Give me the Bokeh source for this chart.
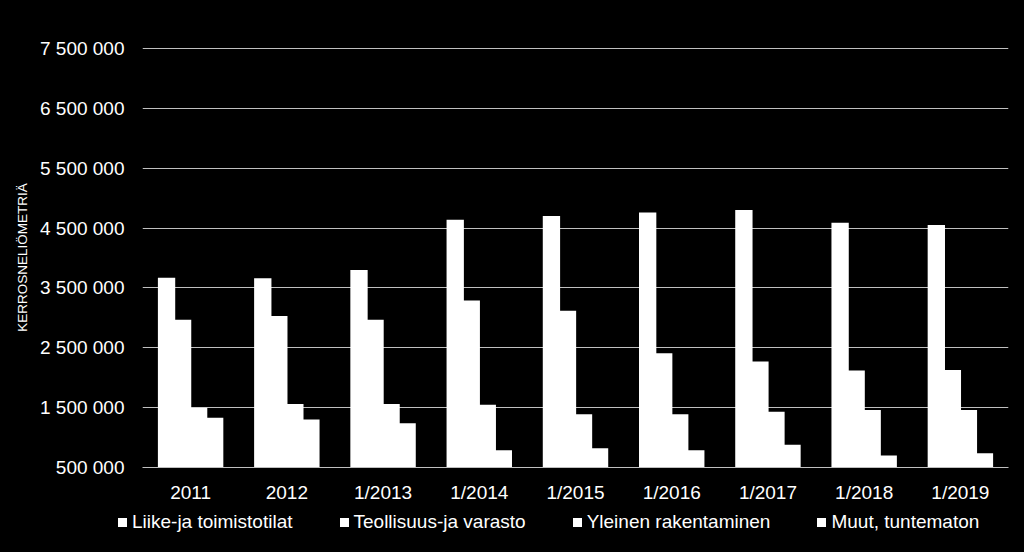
from bokeh.plotting import figure
from bokeh.models import FactorRange, Range1d, FixedTicker, ColumnDataSource, Div
from bokeh.layouts import column
from bokeh.transform import dodge
from bokeh.embed import file_html
from bokeh.resources import INLINE

categories = ["2011", "2012", "1/2013", "1/2014", "1/2015", "1/2016", "1/2017", "1/2018", "1/2019"]
series_names = ["Liike-ja toimistotilat", "Teollisuus-ja varasto", "Yleinen rakentaminen", "Muut, tuntematon"]
liike = [3670000, 3660000, 3800000, 4640000, 4700000, 4760000, 4800000, 4590000, 4550000]
teollisuus = [2970000, 3030000, 2970000, 3290000, 3120000, 2410000, 2270000, 2120000, 2130000]
yleinen = [1500000, 1560000, 1560000, 1550000, 1390000, 1390000, 1430000, 1460000, 1460000]
muut = [1330000, 1300000, 1240000, 790000, 820000, 790000, 880000, 700000, 740000]
y_ticks = [500000, 1500000, 2500000, 3500000, 4500000, 5500000, 6500000, 7500000]
y_tick_labels = ["500 000", "1 500 000", "2 500 000", "3 500 000", "4 500 000", "5 500 000", "6 500 000", "7 500 000"]
y_title = "KERROSNELIÖMETRIÄ"
baseline = 500000

FONT = "Liberation Sans"
GRID = "#bfbfbf"
BAR = "#ffffff"

src = ColumnDataSource(dict(cat=categories, s0=liike, s1=teollisuus, s2=yleinen, s3=muut,
                            base=[baseline] * len(categories)))

# one pixel of headroom so the top gridline is not clipped
y_end = y_ticks[-1] + (y_ticks[1] - y_ticks[0]) / 60.0
p = figure(x_range=FactorRange(*categories), y_range=Range1d(y_ticks[0], y_end),
           width=1024, height=505, output_backend="svg", toolbar_location=None,
           min_border_left=142, min_border_right=16, min_border_top=47, min_border_bottom=36)
p.background_fill_color = "black"
p.border_fill_color = "black"
p.outline_line_color = None

offsets = [-0.25, -0.0833, 0.0833, 0.25]
for i, off in enumerate(offsets):
    p.vbar(x=dodge("cat", off, range=p.x_range), top="s%d" % i, bottom="base", width=0.18,
           source=src, fill_color=BAR, line_color=None, legend_label=series_names[i])
p.legend.visible = False

p.xgrid.grid_line_color = None
p.ygrid.grid_line_color = GRID
p.ygrid.grid_line_width = 1
p.yaxis.ticker = FixedTicker(ticks=y_ticks)
p.yaxis.major_label_overrides = {t: l for t, l in zip(y_ticks, y_tick_labels)}
p.yaxis.axis_line_color = None
p.yaxis.major_tick_line_color = None
p.yaxis.minor_tick_line_color = None
p.yaxis.major_tick_in = 0
p.yaxis.major_tick_out = 0
p.yaxis.major_label_standoff = 18
p.yaxis.major_label_text_font = FONT
p.yaxis.major_label_text_font_size = "19px"
p.yaxis.major_label_text_color = "white"
p.yaxis.axis_label = y_title
p.yaxis.axis_label_text_font = FONT
p.yaxis.axis_label_text_font_size = "13.5px"
p.yaxis.axis_label_text_font_style = "normal"
p.yaxis.axis_label_text_color = "white"
p.yaxis.axis_label_standoff = 7

p.xaxis.axis_line_color = GRID
p.xaxis.axis_line_width = 1
p.xaxis.major_tick_line_color = None
p.xaxis.minor_tick_line_color = None
p.xaxis.major_tick_in = 0
p.xaxis.major_tick_out = 0
p.xaxis.major_label_standoff = 14
p.xaxis.major_label_text_font = FONT
p.xaxis.major_label_text_font_size = "19px"
p.xaxis.major_label_text_color = "white"

# legend strip below the chart (HTML, so it is not clipped to the plot frame)
item_html = "".join(
    '<span style="display:inline-block;flex:0 0 9px;width:9px;height:9px;background:%s;margin-right:5px;"></span>'
    '<span style="flex:0 0 auto;margin-right:47px;">%s</span>' % (BAR, name)
    for name in series_names)
legend_div = Div(
    text='<div style="display:flex;align-items:center;box-sizing:border-box;width:1024px;height:47px;'
         'padding:0 0 13px 118px;font-family:\'%s\';font-size:19px;line-height:22px;color:#ffffff;'
         'background:#000;white-space:nowrap;">%s</div>' % (FONT, item_html),
    width=1024, height=47, margin=(0, 0, 0, 0))

layout = column(p, legend_div, spacing=0)
html = file_html(layout, INLINE)
html = html.replace("<head>", "<head><style>html,body{background:#000;margin:0;padding:0;overflow:hidden;}</style>", 1)
open("out.html", "w").write(html)
